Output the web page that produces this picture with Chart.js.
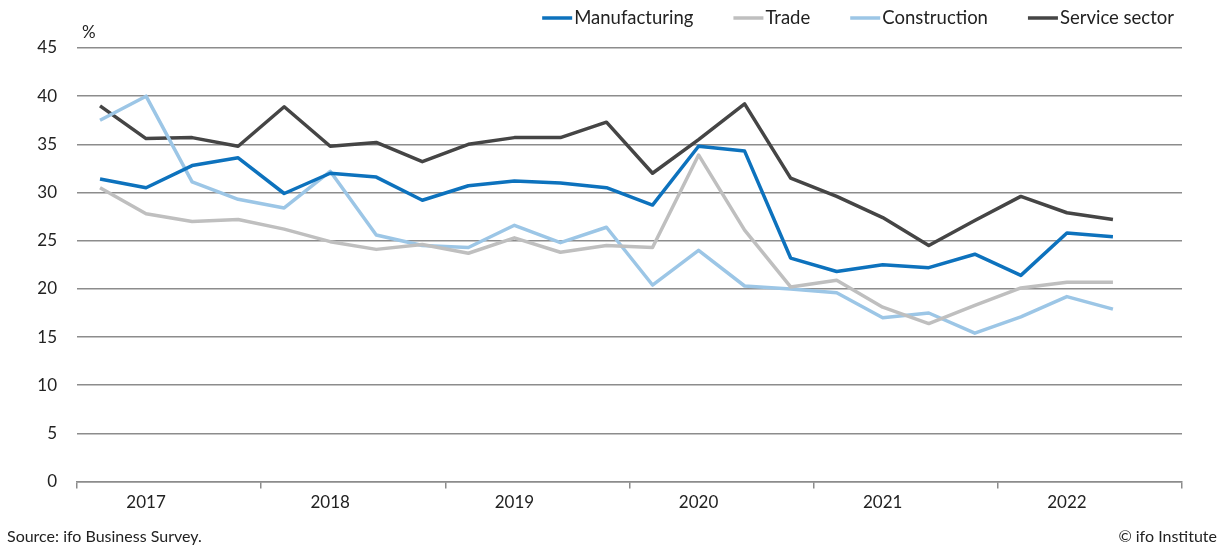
<!DOCTYPE html>
<html>
<head>
<meta charset="utf-8">
<script src="https://cdn.jsdelivr.net/npm/chart.js@4.4.0/dist/chart.umd.min.js"></script>
<style>
  html, body { margin: 0; padding: 0; background: #fff; }
  #wrap { width: 1224px; height: 547px; position: relative; }
</style>
</head>
<body>
<div id="wrap"><canvas id="chart"></canvas></div>
<script>
// Quarterly values 2017 Q1 .. 2022 Q3, in %
const years = ['2017', '2018', '2019', '2020', '2021', '2022'];
const yTicks = [0, 5, 10, 15, 20, 25, 30, 35, 40, 45];

const manufacturing = [31.4, 30.5, 32.8, 33.6, 29.9, 32.0, 31.6, 29.2, 30.7, 31.2, 31.0, 30.5,
                       28.7, 34.8, 34.3, 23.2, 21.8, 22.5, 22.2, 23.6, 21.4, 25.8, 25.4];
const trade = [30.5, 27.8, 27.0, 27.2, 26.2, 24.9, 24.1, 24.6, 23.7, 25.3, 23.8, 24.5,
               24.3, 33.9, 26.1, 20.2, 20.9, 18.1, 16.4, 18.3, 20.1, 20.7, 20.7];
const construction = [37.5, 40.0, 31.1, 29.3, 28.4, 32.2, 25.6, 24.5, 24.3, 26.6, 24.8, 26.4,
                      20.4, 24.0, 20.3, 20.0, 19.6, 17.0, 17.5, 15.4, 17.1, 19.2, 17.9];
const services = [39.0, 35.6, 35.7, 34.8, 38.9, 34.8, 35.2, 33.2, 35.0, 35.7, 35.7, 37.3,
                  32.0, 35.5, 39.2, 31.5, 29.6, 27.4, 24.5, 27.1, 29.6, 27.9, 27.2];

const FONT = 'Lato, "Open Sans", sans-serif';
const GRID = '#8c8c8c';
const TEXT = '#222';

// each quarter sits in the middle of its slot on a 0..24 axis
function toPoints(arr) {
    return arr.map((v, i) => ({ x: i + 0.5, y: v }));
}

function makeSet(label, values, color) {
    return {
        label: label,
        data: toPoints(values),
        borderColor: color,
        backgroundColor: color,
        borderWidth: 3.5,
        pointRadius: 0,
        tension: 0,
        borderJoinStyle: 'round'
    };
}

// legend in one row, right aligned, line marker right before the text
const legendRow = {
    id: 'legendRow',
    afterDraw(chart) {
        const ctx = chart.ctx;
        const sets = chart.data.datasets;
        const lineW = 30, gapText = 2, gapItem = 40, y = 18;
        ctx.save();
        ctx.font = '18.5px ' + FONT;
        ctx.textBaseline = 'middle';
        ctx.textAlign = 'left';
        const widths = sets.map(s => ctx.measureText(s.label).width);
        let total = 0;
        widths.forEach((w, i) => { total += lineW + gapText + w + (i ? gapItem : 0); });
        let x = 1174 - total;
        sets.forEach((s, i) => {
            ctx.strokeStyle = s.borderColor;
            ctx.lineWidth = 3.5;
            ctx.beginPath();
            ctx.moveTo(x, y);
            ctx.lineTo(x + lineW, y);
            ctx.stroke();
            ctx.fillStyle = TEXT;
            ctx.fillText(s.label, x + lineW + gapText, y);
            x += lineW + gapText + widths[i] + gapItem;
        });
        ctx.restore();
    }
};

// extra text: % unit, source and copyright
const notesPlugin = {
    id: 'notes',
    afterDraw(chart) {
        const ctx = chart.ctx;
        const area = chart.chartArea;
        ctx.save();
        ctx.fillStyle = TEXT;
        ctx.font = '17px ' + FONT;
        ctx.textBaseline = 'middle';
        ctx.textAlign = 'left';
        ctx.fillText('%', area.left + 5, area.top - 15);
        ctx.font = '16px ' + FONT;
        ctx.fillText('Source: ifo Business Survey.', 7, 537);
        ctx.textAlign = 'right';
        ctx.fillText('\u00A9 ifo Institute', 1217, 537);
        ctx.restore();
    }
};

const ctx = document.getElementById('chart');

new Chart(ctx, {
    type: 'line',
    data: {
        datasets: [
            makeSet('Manufacturing', manufacturing, '#0d72bd'),
            makeSet('Trade', trade, '#bfbfbf'),
            makeSet('Construction', construction, '#9cc6e6'),
            makeSet('Service sector', services, '#454545')
        ]
    },
    options: {
        responsive: true,
        maintainAspectRatio: false,
        animation: false,
        layout: {
            padding: { left: 20, right: 42, top: 48, bottom: 30 }
        },
        plugins: {
            legend: { display: false },
            tooltip: { enabled: false }
        },
        scales: {
            x: {
                type: 'linear',
                min: 0,
                max: 24,
                // tick marks at year edges, labels under the 2nd quarter
                afterBuildTicks(scale) {
                    const t = [];
                    for (let k = 0; k <= 6; k++) {
                        t.push({ value: k * 4 });
                        if (k < 6) t.push({ value: k * 4 + 1.5 });
                    }
                    scale.ticks = t;
                },
                ticks: {
                    autoSkip: false,
                    maxRotation: 0,
                    padding: 4,
                    color: TEXT,
                    font: { family: FONT, size: 17 },
                    callback: (v) => (v % 4 === 1.5 ? years[(v - 1.5) / 4] : '')
                },
                grid: {
                    drawOnChartArea: false,
                    tickLength: 7,
                    lineWidth: 1.5,
                    tickColor: (c) => (c.tick && c.tick.value % 4 === 0 ? GRID : 'rgba(0,0,0,0)')
                },
                border: { display: true, color: GRID, width: 1.5 }
            },
            y: {
                min: 0,
                max: 45,
                afterBuildTicks(scale) {
                    scale.ticks = yTicks.map(v => ({ value: v }));
                },
                afterFit(scale) {
                    scale.width = 57;
                },
                ticks: {
                    padding: 20,
                    color: TEXT,
                    font: { family: FONT, size: 17 }
                },
                grid: {
                    color: GRID,
                    lineWidth: 1.5,
                    drawTicks: false
                },
                border: { display: false }
            }
        }
    },
    plugins: [legendRow, notesPlugin]
});
</script>
</body>
</html>
